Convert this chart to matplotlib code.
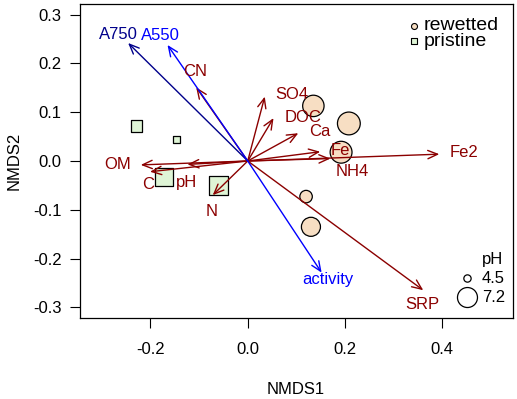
import numpy as np
import matplotlib
matplotlib.use('Agg')
import matplotlib.pyplot as plt

plt.rcParams['font.family'] = ['Liberation Sans', 'DejaVu Sans']

# site scores (NMDS) and pH of each site
rewetted_x = [0.135, 0.208, 0.192, 0.120, 0.130]
rewetted_y = [0.113, 0.077, 0.018, -0.073, -0.135]
rewetted_ph = [7.5, 7.8, 7.6, 5.6, 7.0]

pristine_x = [-0.229, -0.146, -0.172, -0.060]
pristine_y = [0.072, 0.045, -0.032, -0.051]
pristine_ph = [5.7, 4.6, 7.3, 7.5]

# fitted environmental vectors
env_names = ['SO4', 'DOC', 'Ca', 'Fe', 'Fe2', 'NH4', 'SRP', 'N', 'C', 'pH', 'OM', 'CN']
env_x = [0.035, 0.053, 0.104, 0.149, 0.394, 0.170, 0.361, -0.072, -0.201, -0.124, -0.220, -0.106]
env_y = [0.132, 0.088, 0.057, 0.019, 0.014, 0.005, -0.265, -0.070, -0.022, -0.007, -0.008, 0.151]

# fitted activity / absorbance vectors
act_names = ['A750', 'A550', 'activity']
act_x = [-0.246, -0.165, 0.152]
act_y = [0.242, 0.238, -0.229]

legend_ph = [4.5, 7.2]

# label placement (offset from arrow tip)
label_offset = {
    'SO4': (0.055, 0.004), 'DOC': (0.061, 0.002), 'Ca': (0.045, 0.003),
    'Fe': (0.041, 0.002), 'Fe2': (0.050, 0.003), 'NH4': (0.046, -0.027),
    'SRP': (-0.001, -0.029), 'N': (-0.002, -0.033), 'C': (-0.004, -0.027),
    'pH': (-0.002, -0.037), 'OM': (-0.048, 0.0), 'CN': (-0.002, 0.032),
    'A750': (-0.020, 0.018), 'A550': (-0.014, 0.019), 'activity': (0.012, -0.015),
}
act_colors = ['#00008B', '#0000FF', '#0000FF']
env_color = '#8B0000'
fill_rewetted = '#F7DEC3'
fill_pristine = '#DFF5D6'


def ph_to_diam(ph):
    # marker diameter in points
    return (7.3 + 4.7 * (np.asarray(ph) - 4.5)) * 0.72


fig = plt.figure(figsize=(5.17, 3.99), dpi=100)
ax = fig.add_axes([80 / 517, 1 - 318 / 399, 432.7 / 517, 314 / 399])

d = ph_to_diam(rewetted_ph)
ax.scatter(rewetted_x, rewetted_y, s=d ** 2, marker='o', facecolor=fill_rewetted,
           edgecolor='black', linewidth=0.9, zorder=2)
d = ph_to_diam(pristine_ph) * 0.886
ax.scatter(pristine_x, pristine_y, s=d ** 2, marker='s', facecolor=fill_pristine,
           edgecolor='black', linewidth=0.9, zorder=2)

arrow_style = '->,head_length=0.7,head_width=0.3'
for name, x, y in zip(env_names, env_x, env_y):
    ax.annotate('', xy=(x, y), xytext=(0, 0),
                arrowprops=dict(arrowstyle=arrow_style, color=env_color, lw=1,
                                shrinkA=0, shrinkB=0), zorder=3)
    dx, dy = label_offset[name]
    ax.text(x + dx, y + dy, name, color=env_color, fontsize=12,
            ha='center', va='center', zorder=4)

for name, x, y, c in zip(act_names, act_x, act_y, act_colors):
    ax.annotate('', xy=(x, y), xytext=(0, 0),
                arrowprops=dict(arrowstyle=arrow_style, color=c, lw=1,
                                shrinkA=0, shrinkB=0), zorder=3)
    dx, dy = label_offset[name]
    ax.text(x + dx, y + dy, name, color=c, fontsize=12,
            ha='center', va='center', zorder=4)

# group legend
ax.scatter([0.7726], [0.931], s=(6 * 0.72) ** 2, marker='o', facecolor=fill_rewetted,
           edgecolor='black', linewidth=0.8, transform=ax.transAxes, zorder=5)
ax.scatter([0.7726], [0.882], s=(5.3 * 0.72) ** 2, marker='s', facecolor=fill_pristine,
           edgecolor='black', linewidth=0.8, transform=ax.transAxes, zorder=5)
ax.text(0.795, 0.931, 'rewetted', fontsize=14, ha='left', va='center', transform=ax.transAxes)
ax.text(0.795, 0.882, 'pristine', fontsize=14, ha='left', va='center', transform=ax.transAxes)

# pH size legend
ax.text(0.504, -0.203, 'pH', fontsize=12, ha='center', va='center')
for ph, y in zip(legend_ph, [-0.241, -0.280]):
    ax.scatter([0.452], [y], s=ph_to_diam(ph) ** 2, marker='o', facecolor='none',
               edgecolor='black', linewidth=0.9)
    ax.text(0.505, y, f'{ph}', fontsize=12, ha='center', va='center')

ax.set_xlim(-0.345, 0.545)
ax.set_ylim(-0.322, 0.322)
ax.set_xticks([-0.2, 0.0, 0.2, 0.4])
ax.set_xticklabels(['-0.2', '0.0', '0.2', '0.4'])
ax.set_yticks([-0.3, -0.2, -0.1, 0.0, 0.1, 0.2, 0.3])
ax.set_yticklabels(['-0.3', '-0.2', '-0.1', '0.0', '0.1', '0.2', '0.3'])
ax.tick_params(axis='both', direction='out', length=7.2, width=0.8, labelsize=12)
ax.tick_params(axis='x', pad=10)
ax.tick_params(axis='y', pad=6)
for sp in ax.spines.values():
    sp.set_linewidth(0.9)

fig.text(296 / 517, 1 - 389 / 399, 'NMDS1', fontsize=12, ha='center', va='center')
fig.text(14 / 517, 1 - 161 / 399, 'NMDS2', fontsize=12, ha='center', va='center', rotation=90)

fig.savefig('out.png', dpi=100)
